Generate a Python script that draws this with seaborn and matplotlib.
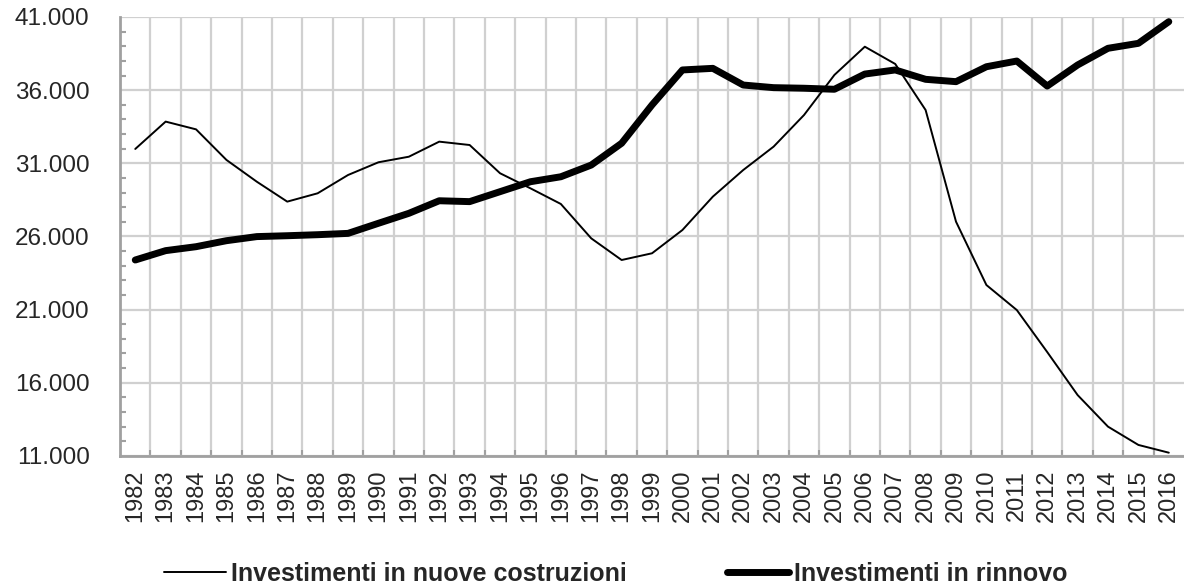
import pandas as pd
import matplotlib.pyplot as plt
import matplotlib.ticker as mticker
import seaborn as sns

# Anni e serie
anni = list(range(1982, 2017))
nuove_costruzioni = [31980, 33850, 33320, 31230, 29740, 28380, 28950, 30200, 31070, 31450,
                     32480, 32250, 30320, 29290, 28220, 25870, 24390, 24850, 26440, 28720,
                     30540, 32140, 34300, 37040, 38970, 37790, 34640, 27010, 22680, 20970,
                     18100, 15160, 13000, 11750, 11220]
rinnovo = [24390, 25030, 25300, 25710, 25990, 26050, 26120, 26210, 26900, 27580,
           28440, 28380, 29060, 29740, 30080, 30880, 32370, 34990, 37380, 37490,
           36350, 36170, 36130, 36060, 37100, 37380, 36740, 36580, 37600, 37990,
           36280, 37720, 38860, 39200, 40680]
y_ticks = [11000, 16000, 21000, 26000, 31000, 36000, 41000]

lbl_nuove = "Investimenti in nuove costruzioni"
lbl_rinnovo = "Investimenti in rinnovo"

df = pd.DataFrame({"anno": anni, lbl_nuove: nuove_costruzioni, lbl_rinnovo: rinnovo})

sns.set_style("white")
plt.rcParams["font.family"] = ["Liberation Sans", "DejaVu Sans"]

fig = plt.figure(figsize=(11.84, 5.86), dpi=100)
ax = fig.add_axes([0.1014, 0.222, 0.8986, 0.749])

sns.lineplot(data=df, x="anno", y=lbl_nuove, ax=ax, color="black", linewidth=1.4, label=lbl_nuove)
sns.lineplot(data=df, x="anno", y=lbl_rinnovo, ax=ax, color="black", linewidth=5, label=lbl_rinnovo)

ax.set_xlim(anni[0] - 0.5, anni[-1] + 0.5)
ax.set_ylim(y_ticks[0], y_ticks[-1])
ax.set_xlabel("")
ax.set_ylabel("")

# griglia tra le categorie (stile Excel)
ax.set_xticks(anni)
ax.set_xticklabels([str(a) for a in anni], rotation=90)
ax.xaxis.set_minor_locator(mticker.FixedLocator([a + 0.5 for a in anni[:-1]]))
ax.yaxis.set_major_locator(mticker.FixedLocator(y_ticks))
ax.yaxis.set_minor_locator(mticker.MultipleLocator(1000))
ax.yaxis.set_major_formatter(mticker.FuncFormatter(lambda v, p: f"{int(v):,}".replace(",", ".")))

ax.grid(False)
ax.grid(which="minor", axis="x", color="#d0d0d0", linewidth=1.6)
ax.grid(which="major", axis="y", color="#d0d0d0", linewidth=1.6)
ax.set_axisbelow(True)

ax.tick_params(axis="x", which="major", length=0, pad=10, labelsize=17)
ax.tick_params(axis="x", which="minor", direction="in", length=4, width=1.5, color="#a0a0a0", bottom=True)
ax.tick_params(axis="y", which="major", length=0, pad=22, labelsize=17.5)
ax.tick_params(axis="y", which="minor", direction="in", length=4, width=1.5, color="#a0a0a0", left=True)

for s in ["top", "right"]:
    ax.spines[s].set_visible(False)
for s in ["left", "bottom"]:
    ax.spines[s].set_color("#a0a0a0")
    ax.spines[s].set_linewidth(2)

leg = ax.legend(loc="center", bbox_to_anchor=(0.466, -0.269), ncol=2, frameon=False,
                handlelength=2.5, handletextpad=0.2, columnspacing=4.0, borderpad=0.1,
                prop={"weight": "bold", "size": 18})

plt.savefig("out.png", dpi=100)
